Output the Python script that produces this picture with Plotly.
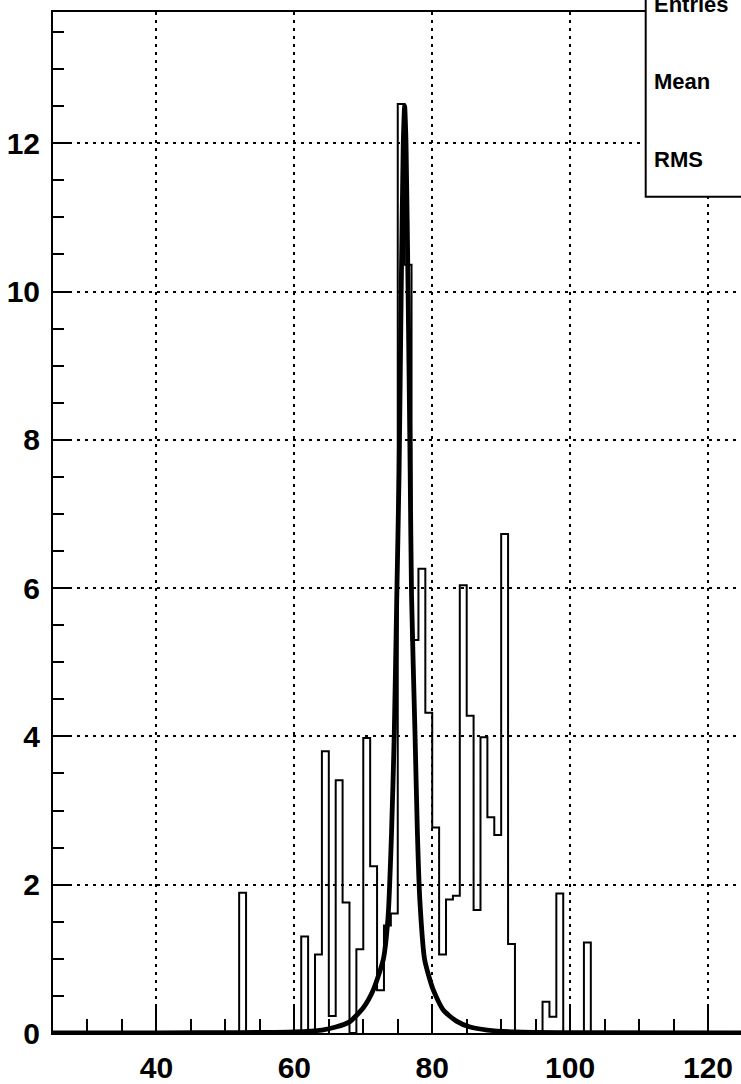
import numpy as np
import plotly.graph_objects as go

# ---- data ----
bin_low = 25.0
bin_width = 1.0
n_bins = 100

# lower edges of the non-empty bins and their contents
filled_bins = [52, 61, 63, 64, 65, 66, 67, 69, 70, 71, 72, 73, 74, 75, 76, 77, 78, 79,
               80, 81, 82, 83, 84, 85, 86, 87, 88, 89, 90, 91, 96, 97, 98, 102]
filled_vals = [1.89, 1.30, 1.06, 3.80, 0.23, 3.41, 1.76, 1.13, 3.98, 2.25, 0.575, 1.45, 1.61,
               12.53, 10.36, 5.30, 6.26, 4.32, 2.77, 1.06, 1.80, 1.85, 6.04, 4.28, 1.66, 3.99,
               2.91, 2.67, 6.73, 1.20, 0.42, 0.22, 1.88, 1.22]

# fit curve
fit_x = [25, 40, 52, 60, 64, 66, 68, 70.0, 71.45, 72.9, 73.6, 74.1, 74.5, 74.85, 75.2, 75.5,
         75.8, 76.0, 76.2, 76.5, 76.8, 77.0, 77.5, 77.85, 78.2, 78.9, 80.15, 81.6, 83.5, 85.5,
         88, 92, 100, 125]
fit_y = [0.0, 0.003, 0.005, 0.015, 0.04, 0.08, 0.15, 0.34, 0.58, 0.99, 1.57, 2.7, 4.05, 5.84,
         7.6, 10.0, 12.0, 12.5, 12.0, 10.0, 7.6, 5.9, 4.05, 2.7, 1.8, 0.99, 0.58, 0.31, 0.16,
         0.08, 0.04, 0.015, 0.005, 0.0]

x_major = [40, 60, 80, 100, 120]
y_major = [0, 2, 4, 6, 8, 10, 12]
stat_labels = ["Entries", "Mean", "RMS"]

# ---- build histogram outline ----
counts = np.zeros(n_bins)
for lo, v in zip(filled_bins, filled_vals):
    counts[int(round((lo - bin_low) / bin_width))] = v
edges = bin_low + bin_width * np.arange(n_bins + 1)
step_y = np.append(counts, counts[-1])

FONT = "Liberation Sans, Arial, Helvetica, sans-serif"

fig = go.Figure()
fig.add_trace(go.Scatter(x=edges, y=step_y, mode="lines", line_shape="hv",
                         line=dict(color="black", width=2), showlegend=False,
                         hoverinfo="skip"))
fig.add_trace(go.Scatter(x=fit_x, y=fit_y, mode="lines", line_shape="spline",
                         line=dict(color="black", width=4.8, smoothing=0.6),
                         showlegend=False, cliponaxis=False, hoverinfo="skip"))

L, T, B = 53, 12, 51
W, H = 741, 1084
px_per_x = 6.895
px_per_y = 74.15
plot_w = W - L
plot_h = H - T - B

fig.update_layout(
    width=W, height=H,
    margin=dict(l=L, r=0, t=T, b=B, pad=0, autoexpand=False),
    paper_bgcolor="white", plot_bgcolor="white",
    font=dict(family=FONT, color="black"),
)

fig.update_xaxes(
    automargin=False,
    range=[bin_low, bin_low + plot_w / px_per_x],
    tickvals=x_major, ticktext=[str(v) for v in x_major],
    ticks="inside", ticklen=29, tickwidth=2, tickcolor="black",
    minor=dict(ticks="inside", ticklen=14, tickwidth=2, tickcolor="black",
               dtick=5, tick0=0, showgrid=False),
    showgrid=True, gridcolor="black", gridwidth=2, griddash="3px,5px",
    showline=True, linecolor="black", linewidth=2, mirror=True,
    zeroline=False,
    tickfont=dict(family=FONT, size=30, weight="bold", color="black"),
    ticklabelstandoff=7,
)
fig.update_yaxes(
    automargin=False,
    range=[0, plot_h / px_per_y],
    tickvals=y_major, ticktext=[str(v) for v in y_major],
    ticks="inside", ticklen=19, tickwidth=2, tickcolor="black",
    minor=dict(ticks="inside", ticklen=11, tickwidth=2, tickcolor="black",
               dtick=0.5, tick0=0, showgrid=False),
    showgrid=True, gridcolor="black", gridwidth=2, griddash="3px,5px",
    showline=True, linecolor="black", linewidth=2, mirror=False,
    zeroline=False,
    tickfont=dict(family=FONT, size=30, weight="bold", color="black"),
    ticklabelstandoff=5,
)

# stats box (partly outside the window, as in the reference)
def px_to_paper_x(px):
    return (px - L) / plot_w

def px_to_paper_y(py):
    return (H - B - py) / plot_h

fig.add_shape(type="rect", xref="paper", yref="paper",
              x0=px_to_paper_x(645.7), x1=1.2, y0=px_to_paper_y(196.7), y1=1.2,
              fillcolor="white", line=dict(color="black", width=2), layer="above")

stat_y_px = [4.7, 82.0, 159.2]
for lab, ypx in zip(stat_labels, stat_y_px):
    fig.add_annotation(text=lab, xref="paper", yref="paper",
                       x=px_to_paper_x(652.0), y=px_to_paper_y(ypx),
                       xanchor="left", yanchor="middle", showarrow=False,
                       font=dict(family=FONT, size=22, weight="bold", color="black"))

fig.write_html("out.html", config={"displayModeBar": False},
               post_script="document.body.style.margin='0';document.body.style.overflow='hidden';")
